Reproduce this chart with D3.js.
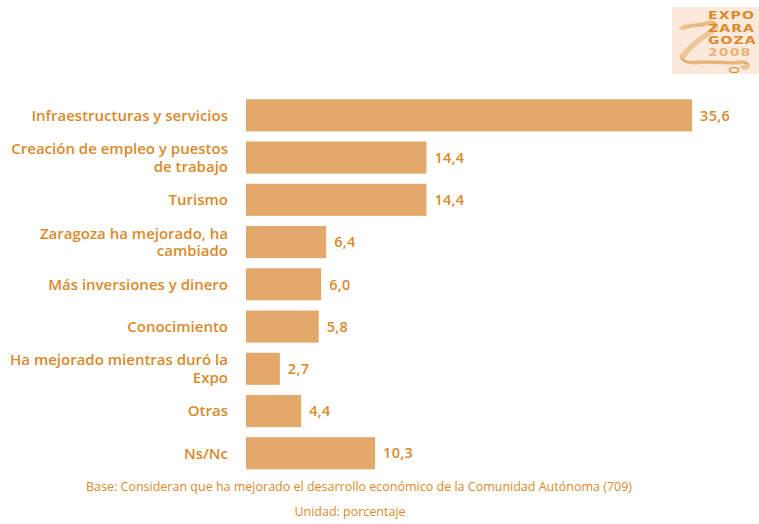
<!DOCTYPE html>
<html>
<head>
<meta charset="utf-8">
<script src="https://cdn.jsdelivr.net/npm/d3@7/dist/d3.min.js"></script>
<style>
  html, body { margin: 0; padding: 0; background: #ffffff; }
  svg { display: block; }
</style>
</head>
<body>
<svg id="chart" width="759" height="524"></svg>
<script>
// Reasons given for the improved regional economy (percent of respondents)
const categories = [
  "Infraestructuras y servicios",
  "Creación de empleo y puestos de trabajo",
  "Turismo",
  "Zaragoza ha mejorado, ha cambiado",
  "Más inversiones y dinero",
  "Conocimiento",
  "Ha mejorado mientras duró la Expo",
  "Otras",
  "Ns/Nc"
];
// Wrapped label lines shown beside each bar
const labelLines = [
  ["Infraestructuras y servicios"],
  ["Creación de empleo y puestos", "de trabajo"],
  ["Turismo"],
  ["Zaragoza ha mejorado, ha", "cambiado"],
  ["Más inversiones y dinero"],
  ["Conocimiento"],
  ["Ha mejorado mientras duró la", "Expo"],
  ["Otras"],
  ["Ns/Nc"]
];
const values = [35.6, 14.4, 14.4, 6.4, 6.0, 5.8, 2.7, 4.4, 10.3];
const footnotes = [
  "Base: Consideran que ha mejorado el desarrollo económico de la Comunidad Autónoma (709)",
  "Unidad: porcentaje"
];
const logoLines = ["EXPO", "ZARA", "GOZA", "2008"];

const svg = d3.select("#chart");
const textColor = "#d98a2c";
const barColor = "#e3a96a";
const font = "'Open Sans', 'Noto Sans', sans-serif";

const x = d3.scaleLinear().domain([0, 36]).range([246, 246 + 36 * 12.53]);
const y = d3.scaleBand().domain(categories).range([94.2, 474.4])
  .paddingInner(0.24).paddingOuter(0.12);

// Bars
svg.append("g").selectAll("rect")
  .data(categories)
  .join("rect")
  .attr("x", x(0))
  .attr("y", d => y(d))
  .attr("width", (d, i) => x(values[i]) - x(0))
  .attr("height", y.bandwidth())
  .attr("fill", barColor);

// Value labels
const fmt = v => d3.format(".1f")(v).replace(".", ",");
svg.append("g").selectAll("text")
  .data(categories)
  .join("text")
  .attr("x", (d, i) => x(values[i]) + 8)
  .attr("y", d => y(d) + y.bandwidth() / 2)
  .attr("dy", "0.36em")
  .attr("fill", textColor)
  .style("font-family", font)
  .style("font-weight", 600)
  .style("font-size", "14.5px")
  .style("letter-spacing", "0.3px")
  .text((d, i) => fmt(values[i]));

// Category labels (right-aligned, vertically centred on bar)
const lineH = 17.5;
const lbl = svg.append("g").selectAll("text")
  .data(categories)
  .join("text")
  .attr("text-anchor", "end")
  .attr("fill", textColor)
  .style("font-family", font)
  .style("font-weight", 600)
  .style("font-size", "15px");
lbl.each(function(d, i) {
  const lines = labelLines[i];
  const cy = y(d) + y.bandwidth() / 2;
  const t = d3.select(this);
  lines.forEach((ln, k) => {
    t.append("tspan")
      .attr("x", 228)
      .attr("y", cy + (k - (lines.length - 1) / 2) * lineH)
      .attr("dy", "0.36em")
      .text(ln);
  });
});

// Footnotes
svg.append("g").selectAll("text")
  .data(footnotes)
  .join("text")
  .attr("x", (d, i) => i === 0 ? 359 : 350)
  .attr("y", (d, i) => 491 + i * 25)
  .attr("text-anchor", "middle")
  .attr("fill", textColor)
  .style("font-family", font)
  .style("font-weight", 500)
  .style("font-size", "12.5px")
  .text(d => d);

// Expo logo, top right
const logo = svg.append("g");
logo.append("rect")
  .attr("x", 672).attr("y", 7).attr("width", 87).attr("height", 67)
  .attr("fill", "#fbeadb");
const squiggle = "M679,28 C688,22 698,26 706,22 C714,18 718,26 710,30 C698,38 688,46 682,54 C676,62 690,62 700,61 C714,60 726,63 740,61 C748,60 748,66 740,67";
[0, 1.6, 3.2].forEach(o => {
  logo.append("path")
    .attr("d", squiggle)
    .attr("transform", `translate(${o},${o * 0.7})`)
    .attr("fill", "none")
    .attr("stroke", "#d98a2c")
    .attr("stroke-opacity", 0.5)
    .attr("stroke-width", 1.4);
});
logo.append("ellipse")
  .attr("cx", 734).attr("cy", 70).attr("rx", 4.5).attr("ry", 2.5)
  .attr("fill", "none").attr("stroke", "#d98a2c").attr("stroke-width", 1.2);
// Stacked wordmark, widened horizontally so the lines stay compact
const mark = logo.append("g")
  .attr("transform", "translate(708,0) scale(1.35,1)");
mark.selectAll("text")
  .data(logoLines)
  .join("text")
  .attr("x", 0)
  .attr("y", (d, i) => 19.5 + i * 12.2)
  .attr("fill", (d, i) => i === 3 ? "#eab27a" : "#d98a2c")
  .style("font-family", "'DejaVu Sans', sans-serif")
  .style("font-weight", "bold")
  .style("font-size", "10.4px")
  .style("letter-spacing", "0.8px")
  .text(d => d);
</script>
</body>
</html>
